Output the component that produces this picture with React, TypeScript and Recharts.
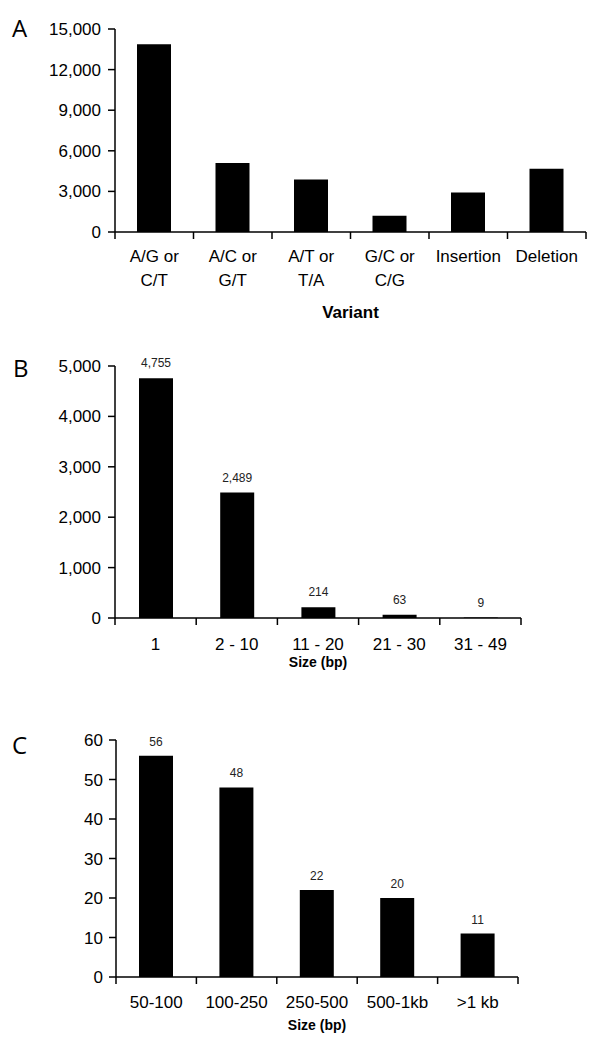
import React from 'react';
import { BarChart, Bar, XAxis, YAxis, LabelList, Label } from 'recharts';

const variantCategories = ['A/G or\nC/T', 'A/C or\nG/T', 'A/T or\nT/A', 'G/C or\nC/G', 'Insertion', 'Deletion'];
const variantCounts = [13870, 5090, 3880, 1200, 2920, 4670];
const variantTicks = [0, 3000, 6000, 9000, 12000, 15000];

const indelSizes = ['1', '2 - 10', '11 - 20', '21 - 30', '31 - 49'];
const indelCounts = [4755, 2489, 214, 63, 9];
const indelTicks = [0, 1000, 2000, 3000, 4000, 5000];

const svSizes = ['50-100', '100-250', '250-500', '500-1kb', '>1 kb'];
const svCounts = [56, 48, 22, 20, 11];
const svTicks = [0, 10, 20, 30, 40, 50, 60];

const FONT = '"Liberation Sans", Arial, Helvetica, sans-serif';
const fmt = (v: number) => Number(v).toLocaleString('en-US');

const variantData = variantCategories.map((name, i) => ({ name, value: variantCounts[i] }));
const indelData = indelSizes.map((name, i) => ({ name, value: indelCounts[i] }));
const svData = svSizes.map((name, i) => ({ name, value: svCounts[i] }));

function makeTick(count: number, firstBaseline: number, lineGap: number) {
  return (props: any) => {
    const { x, y, payload, index } = props;
    const half = payload && typeof payload.offset === 'number' ? payload.offset : 0;
    const lines = String(payload.value).split('\n');
    const lx = x - half;
    const rx = x + half;
    return (
      <g>
        <path d={`M${lx},${y}L${lx},${y + 7}`} stroke="#000" strokeWidth={1.5} fill="none" />
        {index === count - 1 ? (
          <path d={`M${rx},${y}L${rx},${y + 7}`} stroke="#000" strokeWidth={1.5} fill="none" />
        ) : null}
        <text x={x} y={y + firstBaseline} textAnchor="middle" fill="#000" stroke="none" fontSize={17} fontFamily={FONT}>
          {lines.map((l, i) => (
            <tspan key={i} x={x} dy={i === 0 ? 0 : lineGap}>{l}</tspan>
          ))}
        </text>
      </g>
    );
  };
}

const yTick = { fill: '#000', fontSize: 17, fontFamily: FONT };
const axisLine = { stroke: '#000', strokeWidth: 1.5 };
const tickLine = { stroke: '#000', strokeWidth: 1.5 };
const valueLabelStyle = { fill: '#222', fontSize: 12, fontFamily: FONT };

export default function App() {
  return (
    <div style={{ position: 'absolute', left: 0, top: 0, width: 600, height: 1053, background: '#fff' }}>
      <div style={{ position: 'absolute', left: 0, top: 0 }}>
        <BarChart width={600} height={330} data={variantData} margin={{ top: 29, right: 14, bottom: 0, left: 0 }}>
          <XAxis
            dataKey="name"
            height={98}
            tickSize={0}
            tickMargin={0}
            tickLine={false}
            axisLine={axisLine}
            interval={0}
            tick={makeTick(variantCategories.length, 30, 24.4)}
          >
            <Label value="Variant" position="insideBottom" offset={12}
              style={{ fontWeight: 'bold', fontSize: 17, fill: '#000', fontFamily: FONT }} />
          </XAxis>
          <YAxis
            width={115}
            domain={[0, 15000]}
            ticks={variantTicks}
            tickFormatter={fmt}
            tick={yTick}
            tickSize={7}
            tickMargin={7}
            axisLine={axisLine}
            tickLine={tickLine}
            interval={0}
          />
          <Bar dataKey="value" fill="#000" barSize={34} isAnimationActive={false} />
        </BarChart>
      </div>

      <div style={{ position: 'absolute', left: 0, top: 330 }}>
        <BarChart width={600} height={370} data={indelData} margin={{ top: 36, right: 79, bottom: 0, left: 0 }}>
          <XAxis
            dataKey="name"
            height={82}
            tickSize={0}
            tickMargin={0}
            tickLine={false}
            axisLine={axisLine}
            interval={0}
            tick={makeTick(indelSizes.length, 32, 24)}
          >
            <Label value="Size (bp)" position="insideBottom" offset={33}
              style={{ fontWeight: 'bold', fontSize: 14, fill: '#000', fontFamily: FONT }} />
          </XAxis>
          <YAxis
            width={115}
            domain={[0, 5000]}
            ticks={indelTicks}
            tickFormatter={fmt}
            tick={yTick}
            tickSize={7}
            tickMargin={7}
            axisLine={axisLine}
            tickLine={tickLine}
            interval={0}
          />
          <Bar dataKey="value" fill="#000" barSize={34} isAnimationActive={false}>
            <LabelList dataKey="value" position="top" offset={11} formatter={(v: any) => fmt(v)} style={valueLabelStyle} />
          </Bar>
        </BarChart>
      </div>

      <div style={{ position: 'absolute', left: 0, top: 700 }}>
        <BarChart width={600} height={353} data={svData} margin={{ top: 40, right: 82, bottom: 0, left: 0 }}>
          <XAxis
            dataKey="name"
            height={76}
            tickSize={0}
            tickMargin={0}
            tickLine={false}
            axisLine={axisLine}
            interval={0}
            tick={makeTick(svSizes.length, 30.5, 24)}
          >
            <Label value="Size (bp)" position="insideBottom" offset={23}
              style={{ fontWeight: 'bold', fontSize: 14, fill: '#000', fontFamily: FONT }} />
          </XAxis>
          <YAxis
            width={116}
            domain={[0, 60]}
            ticks={svTicks}
            tick={yTick}
            tickSize={7}
            tickMargin={6}
            axisLine={axisLine}
            tickLine={tickLine}
            interval={0}
          />
          <Bar dataKey="value" fill="#000" barSize={34} isAnimationActive={false}>
            <LabelList dataKey="value" position="top" offset={10} formatter={(v: any) => fmt(v)} style={valueLabelStyle} />
          </Bar>
        </BarChart>
      </div>

      <svg width={600} height={1053} style={{ position: 'absolute', left: 0, top: 0, pointerEvents: 'none' }}>
        <g fontFamily='"Open Sans", "Noto Sans", sans-serif' fontSize={24} fill="#000">
          <text x={12} y={36.7}>A</text>
          <text x={13} y={377.3}>B</text>
          <text x={12} y={753.8}>C</text>
        </g>
      </svg>
    </div>
  );
}
